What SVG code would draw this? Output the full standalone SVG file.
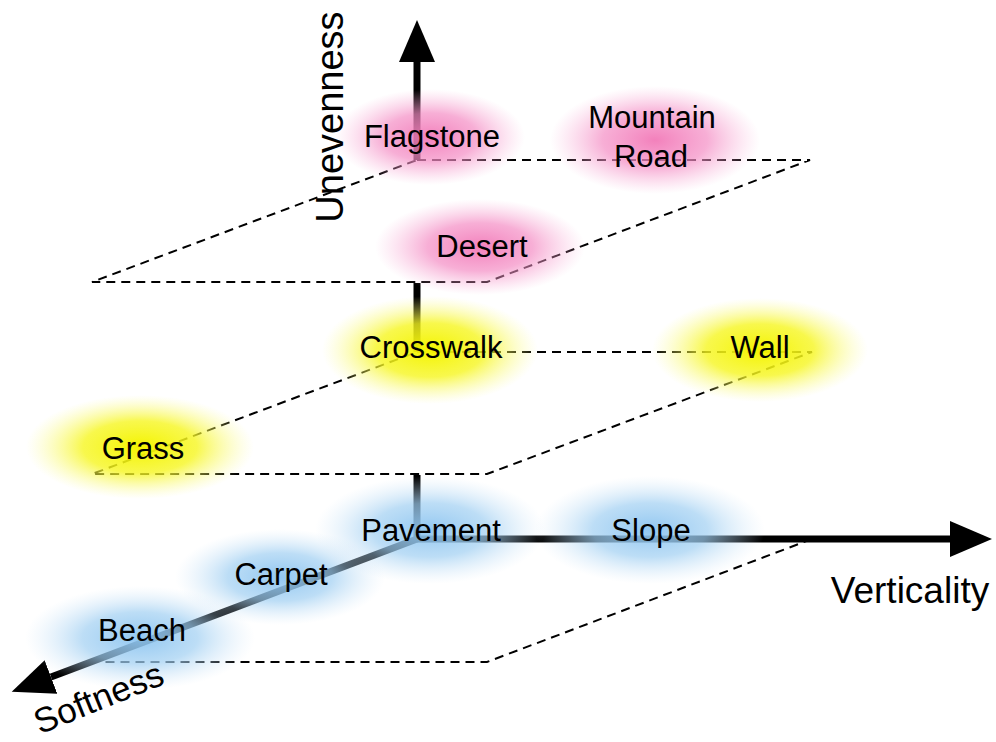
<svg xmlns="http://www.w3.org/2000/svg" width="996" height="742" viewBox="0 0 996 742">
  <style>
    .lbl { font-family: "Liberation Sans", Arial, sans-serif; font-size: 31px; fill: #000; text-anchor: middle; }
    .axl { font-family: "Liberation Sans", Arial, sans-serif; font-size: 37px; fill: #000; text-anchor: middle; }
    .dash { fill: none; stroke: #000; stroke-width: 2; stroke-dasharray: 9 6; }
    .axis { fill: none; stroke: #000; stroke-width: 7; }
    .head { marker-end: url(#arrow); }
  </style>
  <defs>
    <radialGradient id="gPink">
      <stop offset="0" stop-color="#f27ab8" stop-opacity="0.95"/>
      <stop offset="0.5" stop-color="#f48cc4" stop-opacity="0.7"/>
      <stop offset="1" stop-color="#f8b0d8" stop-opacity="0"/>
    </radialGradient>
    <radialGradient id="gYellow">
      <stop offset="0" stop-color="#f4f400" stop-opacity="1"/>
      <stop offset="0.5" stop-color="#f6f620" stop-opacity="0.8"/>
      <stop offset="1" stop-color="#fbfb90" stop-opacity="0"/>
    </radialGradient>
    <radialGradient id="gBlue">
      <stop offset="0" stop-color="#8cc4f0" stop-opacity="0.95"/>
      <stop offset="0.5" stop-color="#a0cff2" stop-opacity="0.7"/>
      <stop offset="1" stop-color="#d0e6f8" stop-opacity="0"/>
    </radialGradient>
    <marker id="arrow" markerUnits="userSpaceOnUse" markerWidth="44" markerHeight="40" refX="0" refY="18" orient="auto" viewBox="0 0 44 36">
      <path d="M0,0 L42,18 L0,36 Z" fill="#000"/>
    </marker>
  </defs>

  <g id="connectors">
    <path class="dash" d="M417,160 L810,160 L487,282 L92,282 Z"/>
    <path class="dash" d="M417,352 L812,352 L487,474 L92,474 Z"/>
    <path class="dash" d="M812,539 L487,662 L105,662"/>
    <line class="axis" x1="417" y1="539" x2="417" y2="475"/>
    <line class="axis" x1="417" y1="352" x2="417" y2="283"/>
    <line class="axis head" x1="417" y1="160" x2="417" y2="62"/>
    <line class="axis head" x1="417" y1="539" x2="950" y2="539"/>
    <line class="axis head" x1="417" y1="539" x2="51" y2="677"/>
  </g>

  <g id="flagstone"><ellipse cx="430" cy="137" rx="95" ry="48" fill="url(#gPink)"/><text class="lbl" x="432" y="147">Flagstone</text></g>
  <g id="mountain-road"><ellipse cx="655" cy="140" rx="105" ry="54" fill="url(#gPink)"/><text class="lbl" x="652" y="128">Mountain</text><text class="lbl" x="651" y="167">Road</text></g>
  <g id="desert"><ellipse cx="480" cy="247" rx="105" ry="48" fill="url(#gPink)"/><text class="lbl" x="482" y="257">Desert</text></g>
  <g id="crosswalk"><ellipse cx="430" cy="350" rx="108" ry="54" fill="url(#gYellow)"/><text class="lbl" x="431" y="358">Crosswalk</text></g>
  <g id="wall"><ellipse cx="760" cy="350" rx="108" ry="52" fill="url(#gYellow)"/><text class="lbl" x="760" y="358">Wall</text></g>
  <g id="grass"><ellipse cx="140" cy="447" rx="114" ry="52" fill="url(#gYellow)"/><text class="lbl" x="143" y="459">Grass</text></g>
  <g id="pavement"><ellipse cx="430" cy="530" rx="115" ry="54" fill="url(#gBlue)"/><text class="lbl" x="431" y="541">Pavement</text></g>
  <g id="slope"><ellipse cx="650" cy="530" rx="115" ry="54" fill="url(#gBlue)"/><text class="lbl" x="651" y="541">Slope</text></g>
  <g id="carpet"><ellipse cx="280" cy="577" rx="105" ry="48" fill="url(#gBlue)"/><text class="lbl" x="281" y="585">Carpet</text></g>
  <g id="beach"><ellipse cx="140" cy="638" rx="115" ry="52" fill="url(#gBlue)"/><text class="lbl" x="142" y="641">Beach</text></g>

  <g id="axis-labels">
    <text class="axl" x="910" y="603">Verticality</text>
    <text class="axl" transform="translate(343,117) rotate(-90)" style="font-size:38px">Unevenness</text>
    <text class="axl" transform="translate(103,709) rotate(-22)" style="font-size:35px">Softness</text>
  </g>
</svg>
